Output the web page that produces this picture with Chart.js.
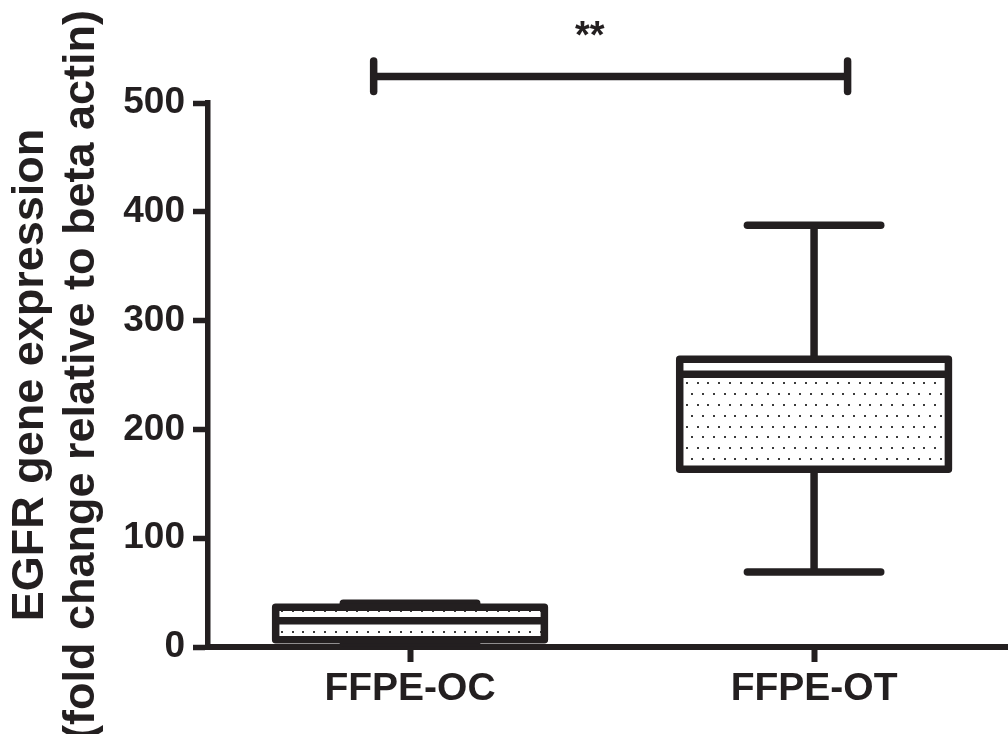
<!DOCTYPE html>
<html>
<head>
<meta charset="utf-8">
<script src="https://cdn.jsdelivr.net/npm/chart.js@4.4.1/dist/chart.umd.min.js"></script>
<style>
  html, body { margin:0; padding:0; background:#fff; overflow:hidden; }
</style>
</head>
<body>
<canvas id="chartEgfr" width="1008" height="734"></canvas>
<script>
// box plot values
const groups      = ['FFPE-OC', 'FFPE-OT'];
const whiskerMin  = [4, 69];
const quartile1   = [6.6, 163.4];
const median      = [24.2, 250.6];
const quartile3   = [36.6, 264.5];
const whiskerMax  = [40.3, 387.7];
const yTicks      = [0, 100, 200, 300, 400, 500];
const sigLabel    = '**';

const ink = '#231f20';
const font = "'Liberation Sans', Arial, Helvetica, sans-serif";

const canvas = document.getElementById('chartEgfr');
const ctx = canvas.getContext('2d');

// stippled fill used inside the boxes
function dotPattern() {
  const c = document.createElement('canvas');
  c.width = 54; c.height = 65;
  const g = c.getContext('2d');
  g.fillStyle = '#fff';
  g.fillRect(0, 0, c.width, c.height);
  g.fillStyle = '#3a3a3a';
  for (let r = 0; r < 6; r++) {
    for (let k = 0; k < 5; k++) {
      const px = k * 10.8 + (r % 2 ? 5.4 : 0);
      const py = r * 65 / 6 + 3;
      g.fillRect(Math.round(px), Math.round(py), 2, 2);
    }
  }
  return ctx.createPattern(c, 'repeat');
}

// whiskers, outline, median and the significance bracket
const boxPlotLines = {
  id: 'boxPlotLines',
  afterDatasetsDraw(chart) {
    const { ctx, scales: { x, y } } = chart;
    const bars = chart.getDatasetMeta(0).data;
    const line = (x1, y1, x2, y2) => { ctx.beginPath(); ctx.moveTo(x1, y1); ctx.lineTo(x2, y2); ctx.stroke(); };
    ctx.save();
    ctx.strokeStyle = ink;
    ctx.lineWidth = 7.5;
    bars.forEach((bar, i) => {
      const cx = bar.x, half = bar.width / 2;
      const capHalf = x.getPixelForValue(i + 0.165) - cx;
      const yMin = y.getPixelForValue(whiskerMin[i]);
      const yQ1 = y.getPixelForValue(quartile1[i]);
      const yMed = y.getPixelForValue(median[i]);
      const yQ3 = y.getPixelForValue(quartile3[i]);
      const yMax = y.getPixelForValue(whiskerMax[i]);
      ctx.lineCap = 'butt';
      line(cx, yMax, cx, yQ3);
      line(cx, yQ1, cx, yMin);
      ctx.lineCap = 'round';
      line(cx - capHalf, yMax, cx + capHalf, yMax);
      line(cx - capHalf, yMin, cx + capHalf, yMin);
      ctx.lineJoin = 'round';
      ctx.strokeRect(cx - half, yQ3, half * 2, yQ1 - yQ3);
      ctx.lineCap = 'butt';
      line(cx - half, yMed, cx + half, yMed);
    });

    // bracket between the two groups
    const xl = x.getPixelForValue(-0.09), xr = x.getPixelForValue(1.083);
    const yb = y.getPixelForValue(524.4);
    const yt1 = y.getPixelForValue(538.5), yt2 = y.getPixelForValue(510.5);
    ctx.lineCap = 'butt';
    line(xl, yb, xr, yb);
    ctx.lineCap = 'round';
    line(xl, yt1, xl, yt2);
    line(xr, yt1, xr, yt2);
    ctx.fillStyle = ink;
    ctx.font = 'bold 38px ' + font;
    ctx.textAlign = 'center';
    ctx.textBaseline = 'middle';
    ctx.fillText(sigLabel, x.getPixelForValue(0.445), y.getPixelForValue(560));
    ctx.restore();
  }
};

new Chart(ctx, {
  type: 'bar',
  data: {
    datasets: [{
      data: groups.map((g, i) => ({ x: i, y: [quartile1[i], quartile3[i]] })),
      backgroundColor: dotPattern(),
      borderWidth: 0,
      barPercentage: 0.665,
      categoryPercentage: 1
    }]
  },
  options: {
    responsive: false,
    animation: false,
    devicePixelRatio: 1,
    layout: { padding: { top: 103, right: 0, bottom: 0, left: 0 } },
    plugins: { legend: { display: false }, tooltip: { enabled: false } },
    scales: {
      x: {
        type: 'linear',
        min: -0.5, max: 1.48,
        offset: false,
        afterBuildTicks: s => { s.ticks = groups.map((g, i) => ({ value: i })); },
        afterFit: s => { s.height = 87; },
        ticks: {
          callback: v => groups[v],
          font: { family: font, size: 39, weight: 'bold' },
          color: ink, padding: 4, maxRotation: 0, autoSkip: false
        },
        grid: { offset: false, drawOnChartArea: false, tickLength: 15, tickWidth: 6, tickColor: ink },
        border: { color: ink, width: 6 }
      },
      y: {
        min: 0, max: 500,
        afterBuildTicks: s => { s.ticks = yTicks.map(v => ({ value: v })); },
        afterFit: s => { s.width = 208; },
        ticks: {
          font: { family: font, size: 37, weight: 'bold' },
          color: ink, padding: 8
        },
        grid: { drawOnChartArea: false, tickLength: 15, tickWidth: 5.5, tickColor: ink },
        border: { color: ink, width: 5.5 },
        title: {
          display: true,
          text: ['EGFR gene expression', '(fold change relative to beta actin)'],
          font: { family: font, size: 45, weight: 'bold', lineHeight: 1.13 },
          color: ink,
          padding: { top: 5, bottom: 0 }
        }
      }
    }
  },
  plugins: [boxPlotLines]
});
</script>
</body>
</html>
